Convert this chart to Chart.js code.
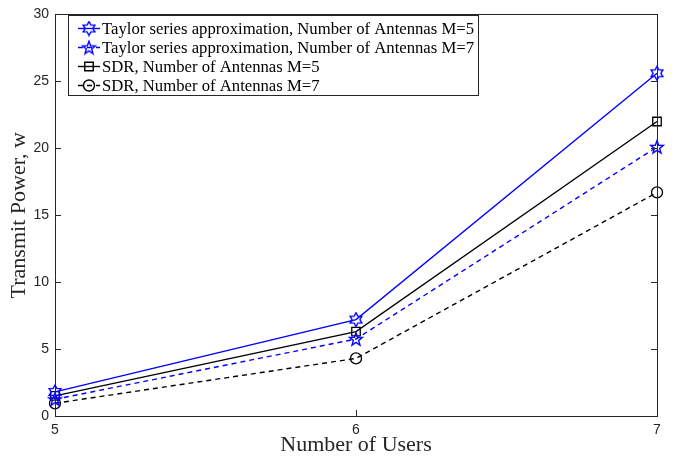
<!DOCTYPE html>
<html>
<head>
<meta charset="utf-8">
<script src="https://cdn.jsdelivr.net/npm/chart.js@4/dist/chart.umd.min.js"></script>
<style>
  body { margin: 0; background: #fff; }
  #wrap { width: 684px; height: 458px; }
</style>
</head>
<body>
<div id="wrap"><canvas id="chart"></canvas></div>
<script>
// values
const users = [5, 6, 7];
const taylorM5 = [1.8, 7.2, 25.6];
const taylorM7 = [1.25, 5.75, 20.1];
const sdrM5 = [1.5, 6.3, 22.0];
const sdrM7 = [0.95, 4.3, 16.7];
const yTicks = [0, 5, 10, 15, 20, 25, 30];

const labels = [
    'Taylor series approximation, Number of Antennas M=5',
    'Taylor series approximation, Number of Antennas M=7',
    'SDR, Number of Antennas M=5',
    'SDR, Number of Antennas M=7'
];

const axisColor = '#262626';
const serif = '"Liberation Serif", "Times New Roman", serif';
const sans = '"Liberation Sans", Arial, sans-serif';

function starCanvas(points, color) {
    const size = 16;
    const c = document.createElement('canvas');
    c.width = size; c.height = size;
    const g = c.getContext('2d');
    const cx = size / 2, cy = size / 2 + (points === 5 ? 0.5 : 0);
    const outer = 6.8, inner = points === 6 ? 3.9 : 2.8;
    g.beginPath();
    for (let i = 0; i < points * 2; i++) {
        const r = i % 2 === 0 ? outer : inner;
        const a = -Math.PI / 2 + i * Math.PI / points;
        const px = cx + r * Math.cos(a), py = cy + r * Math.sin(a);
        if (i === 0) g.moveTo(px, py); else g.lineTo(px, py);
    }
    g.closePath();
    g.strokeStyle = color;
    g.lineWidth = 1.4;
    g.stroke();
    return c;
}

const hexagram = starCanvas(6, '#0000ff');
const pentagram = starCanvas(5, '#0000ff');

function toXY(vals) {
    return users.map((u, i) => ({ x: u, y: vals[i] }));
}

const datasets = [
    { label: labels[0], data: toXY(taylorM5), borderColor: '#0000ff', borderWidth: 1.4,
      pointStyle: hexagram, pointRadius: 7, borderDash: [] },
    { label: labels[1], data: toXY(taylorM7), borderColor: '#0000ff', borderWidth: 1.4,
      pointStyle: pentagram, pointRadius: 7, borderDash: [5, 4] },
    { label: labels[2], data: toXY(sdrM5), borderColor: '#000000', borderWidth: 1.4,
      pointStyle: 'rect', pointRadius: 6, borderDash: [] },
    { label: labels[3], data: toXY(sdrM7), borderColor: '#000000', borderWidth: 1.4,
      pointStyle: 'circle', pointRadius: 5.5, borderDash: [5, 4] }
].map(d => Object.assign(d, {
    backgroundColor: 'transparent',
    pointBackgroundColor: 'transparent',
    pointBorderColor: d.borderColor,
    pointBorderWidth: 1.3,
    fill: false,
    tension: 0,
    clip: false
}));

// box, inward ticks and the legend, MATLAB style
const matlabFrame = {
    id: 'matlabFrame',
    afterDraw(chart) {
        const ctx = chart.ctx;
        const a = chart.chartArea;
        const xs = chart.scales.x, ys = chart.scales.y;
        ctx.save();
        ctx.strokeStyle = axisColor;
        ctx.lineWidth = 1;
        ctx.strokeRect(Math.round(a.left) + 0.5, Math.round(a.top) + 0.5,
            Math.round(a.right - a.left), Math.round(a.bottom - a.top));
        ctx.beginPath();
        yTicks.forEach(v => {
            const py = Math.round(ys.getPixelForValue(v)) + 0.5;
            ctx.moveTo(a.left, py); ctx.lineTo(a.left + 6, py);
            ctx.moveTo(a.right, py); ctx.lineTo(a.right - 6, py);
        });
        users.forEach(v => {
            const px = Math.round(xs.getPixelForValue(v)) + 0.5;
            ctx.moveTo(px, a.bottom); ctx.lineTo(px, a.bottom - 6);
            ctx.moveTo(px, a.top); ctx.lineTo(px, a.top + 6);
        });
        ctx.stroke();

        // legend
        const bx = 68.5, by = 15.5, bw = 410, bh = 80, rowH = 19;
        ctx.fillStyle = '#fff';
        ctx.fillRect(bx, by, bw, bh);
        ctx.strokeRect(bx, by, bw, bh);
        ctx.font = '16.7px ' + serif;
        ctx.textBaseline = 'middle';
        chart.data.datasets.forEach((d, i) => {
            const cy = by + 13 + i * rowH;
            ctx.save();
            ctx.strokeStyle = d.borderColor;
            ctx.lineWidth = d.borderWidth;
            ctx.setLineDash(d.borderDash);
            ctx.beginPath();
            ctx.moveTo(78, cy); ctx.lineTo(100, cy);
            ctx.stroke();
            ctx.setLineDash([]);
            ctx.fillStyle = 'rgba(0,0,0,0)';
            Chart.helpers.drawPoint(ctx, {
                pointStyle: d.pointStyle, radius: d.pointRadius, rotation: 0,
                borderWidth: d.pointBorderWidth
            }, 89, cy);
            ctx.restore();
            ctx.fillStyle = '#000';
            ctx.fillText(d.label, 102, cy + 1);
        });
        ctx.restore();
    }
};

new Chart(document.getElementById('chart'), {
    type: 'line',
    data: { datasets: datasets },
    options: {
        responsive: true,
        maintainAspectRatio: false,
        animation: false,
        layout: { padding: { left: 0, right: 27, top: 7, bottom: 0 } },
        plugins: { legend: { display: false }, tooltip: { enabled: false } },
        scales: {
            x: {
                type: 'linear', min: 5, max: 7,
                grid: { display: false, drawTicks: false },
                border: { display: false },
                ticks: { stepSize: 1, color: axisColor, font: { family: sans, size: 14 }, padding: 6 },
                title: { display: true, text: 'Number of Users', color: axisColor,
                         font: { family: serif, size: 22 }, padding: { top: -3, bottom: 0 } },
                afterFit(scale) { scale.height = 42; }
            },
            y: {
                min: 0, max: 30,
                grid: { display: false, drawTicks: false },
                border: { display: false },
                ticks: { stepSize: 5, color: axisColor, font: { family: sans, size: 14 }, padding: 6 },
                title: { display: true, text: 'Transmit Power, w', color: axisColor,
                         font: { family: serif, size: 22 }, padding: { top: 6, bottom: 0 } },
                afterFit(scale) { scale.width = 55; }
            }
        }
    },
    plugins: [matlabFrame]
});
</script>
</body>
</html>
